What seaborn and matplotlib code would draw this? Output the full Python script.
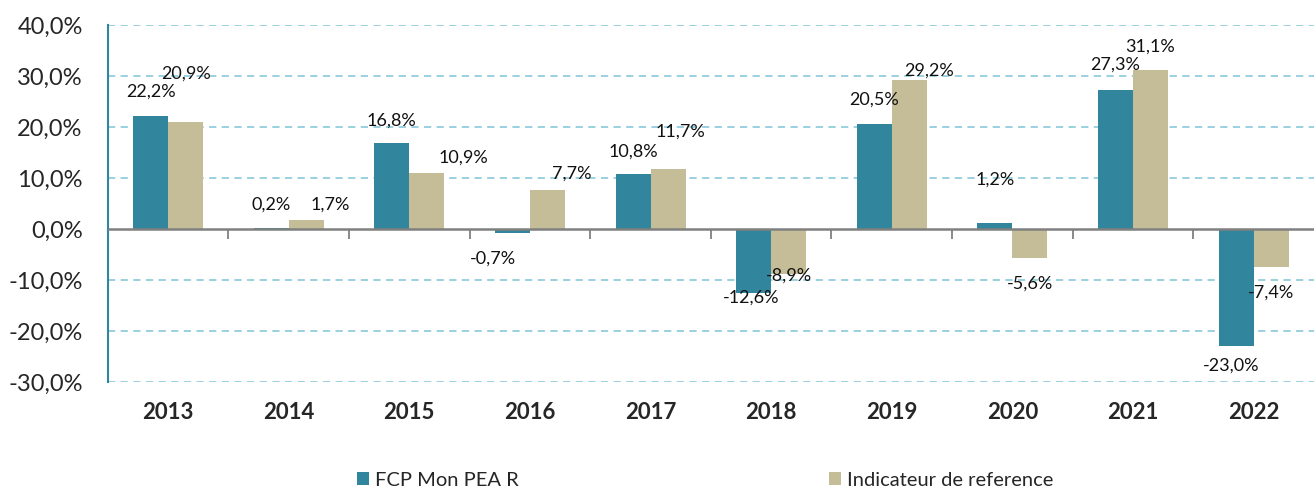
import pandas as pd
import numpy as np
import seaborn as sns
import matplotlib.pyplot as plt

# === DONNÉES ===
annees = ["2013", "2014", "2015", "2016", "2017", "2018", "2019", "2020", "2021", "2022"]
fcp = [22.2, 0.2, 16.8, -0.7, 10.8, -12.6, 20.5, 1.2, 27.3, -23.0]
indicateur = [20.9, 1.7, 10.9, 7.7, 11.7, -8.9, 29.2, -5.6, 31.1, -7.4]
series = ["FCP Mon PEA R", "Indicateur de reference"]

df = pd.DataFrame({
    "Annee": annees * 2,
    "Perf": fcp + indicateur,
    "Serie": [series[0]] * len(annees) + [series[1]] * len(annees),
})

# décalages des étiquettes (pixels) comme sur le graphique Excel
offsets_fcp = [(0, 24), (0, 23), (0, 23), (-20, -26), (0, 22), (-3, -4), (0, 25), (0, 43), (0, 25), (-5, -19)]
offsets_ind = [(1, 49), (24, 16), (37, 16), (24, 16), (12, 38), (0, -1), (20, 9), (0, -26), (0, 24), (0, -26)]

# === STYLE ===
sns.set_style("white")
plt.rcParams["font.family"] = ["Lato", "DejaVu Sans"]

couleurs = ["#31859C", "#C4BD97"]
grille = "#92CDDC"

fig = plt.figure(figsize=(13.14, 4.88), dpi=100)
ax = fig.add_axes([0.082, 0.217, 0.918, 0.732])

sns.barplot(data=df, x="Annee", y="Perf", hue="Serie", palette=couleurs,
            saturation=1, width=0.58, gap=0, linewidth=0, ax=ax,
            legend=True, zorder=3)

ax.set_ylim(-30, 40)
ax.set_xlim(-0.5, 9.5)
yt = [-30, -20, -10, 0, 10, 20, 30, 40]
ax.set_yticks(yt)
ax.set_yticklabels([f"{v:.1f}%".replace(".", ",") for v in yt], fontsize=17)
# grille pointillée sauf à 0 (remplacée par l'axe gris)
for v in yt:
    if v != 0:
        ax.axhline(v, color=grille, linestyle=(0, (4, 3)), linewidth=1.3, zorder=1)
ax.tick_params(axis="y", direction="out", length=6, color="#31859C", width=1.3, pad=12)

for s in ["top", "right", "bottom"]:
    ax.spines[s].set_visible(False)
ax.spines["left"].set_color("#31859C")
ax.spines["left"].set_linewidth(1.5)

ax.set_xlabel("")
ax.set_ylabel("")
ax.tick_params(axis="x", length=0, pad=14)
for t in ax.get_xticklabels():
    t.set_fontweight("bold")
    t.set_fontsize(16)

# axe horizontal à 0 avec petites graduations entre les années
ax.axhline(0, color="#808080", linewidth=1.8, zorder=4)
sec = ax.secondary_xaxis(30 / 70)
sec.set_xticks(np.arange(0.5, 9, 1))
sec.set_xticklabels([])
sec.tick_params(direction="out", length=7, color="#808080", width=1.3)
sec.spines["bottom"].set_visible(False)

# étiquettes de données
for cont, offs in zip(ax.containers, [offsets_fcp, offsets_ind]):
    for barre, (dx, dy) in zip(cont, offs):
        v = barre.get_height()
        xc = barre.get_x() + barre.get_width() / 2
        ax.annotate(f"{v:.1f}%".replace(".", ","), (xc, v), xytext=(dx, dy),
                    textcoords="offset pixels", ha="center", va="center",
                    fontsize=13, color="#111111", zorder=5)

leg = ax.legend(loc="upper center", bbox_to_anchor=(0.495, -0.2), ncol=2,
                frameon=False, fontsize=14.5, handlelength=0.6, handleheight=0.6,
                handletextpad=0.3, columnspacing=15.4)

fig.savefig("out.png", dpi=100)
